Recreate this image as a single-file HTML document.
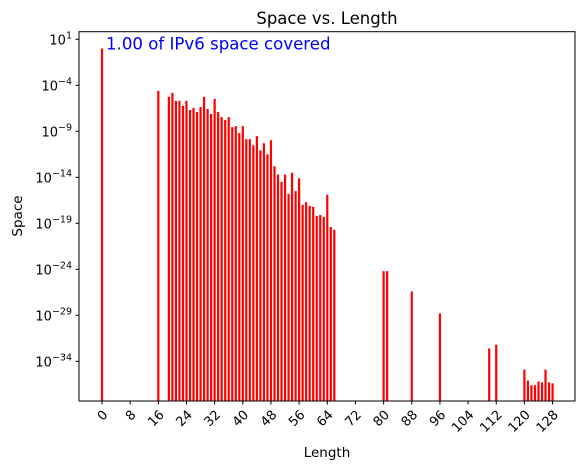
<!DOCTYPE html>
<html><head><meta charset="utf-8"><style>
body{margin:0;background:#fff}
svg{display:block;font-family:"DejaVu Sans","Liberation Sans",sans-serif}
</style></head><body>
<svg width="588" height="469" id="c">
<text x="327" y="24" text-anchor="middle" font-size="16.5">Space vs. Length</text>
<text x="327" y="457" text-anchor="middle" font-size="13.5">Length</text>
<text transform="translate(22,216) rotate(-90)" text-anchor="middle" font-size="13.5">Space</text>
<g id="bars"></g><g id="ticks"></g>
<rect x="79" y="31.7" width="496" height="369.3" fill="none" stroke="#000" stroke-width="1"/>
<text x="106" y="49.5" font-size="16.6" fill="#0000ff">1.00 of IPv6 space covered</text>
</svg>
<script>
const lengths=[0,16,19,20,21,22,23,24,25,26,27,28,29,30,31,32,33,34,35,36,37,38,39,40,41,42,43,44,45,46,47,48,49,50,51,52,53,54,55,56,57,58,59,60,61,62,63,64,65,66,80,81,88,96,110,112,120,121,122,123,124,125,126,127,128];
const exponents=[0,-4.6,-5.25,-4.82,-5.69,-5.69,-6.24,-5.69,-6.68,-6.46,-6.9,-6.35,-5.25,-6.57,-7.12,-5.47,-6.9,-7.45,-7.78,-7.45,-8.55,-8.44,-9.2,-8.44,-9.86,-9.86,-10.52,-9.53,-11.07,-10.3,-11.5,-9.97,-12.8,-13.7,-14.5,-13.7,-15.8,-13.5,-15.5,-14.1,-17.0,-16.7,-17.1,-17.2,-18.2,-18.1,-18.3,-15.9,-19.4,-19.7,-24.2,-24.2,-26.4,-28.8,-32.6,-32.2,-34.9,-36.1,-36.6,-36.6,-36.2,-36.3,-34.9,-36.3,-36.4];
const xTicks=[0,8,16,24,32,40,48,56,64,72,80,88,96,104,112,120,128];
const yTickExps=[1,-4,-9,-14,-19,-24,-29,-34];
const NS='http://www.w3.org/2000/svg';
const xs=v=>102+3.52*v;
const ys=e=>39.3+(1-e)*9.2;
const bottom=401;
const bars=document.getElementById('bars'),ticks=document.getElementById('ticks');
lengths.forEach((L,i)=>{
 const r=document.createElementNS(NS,'rect');
 const y=ys(exponents[i]);
 r.setAttribute('x',xs(L)-1.1);r.setAttribute('width',2.2);
 r.setAttribute('y',y);r.setAttribute('height',bottom-y);r.setAttribute('fill','#ff0000');
 
 
 bars.appendChild(r);
});
xTicks.forEach(t=>{
 const x=xs(t);
 const l=document.createElementNS(NS,'line');
 l.setAttribute('x1',x);l.setAttribute('x2',x);l.setAttribute('y1',bottom);l.setAttribute('y2',bottom+3.5);l.setAttribute('stroke','#000');
 
 
 ticks.appendChild(l);
 const tx=document.createElementNS(NS,'text');
 tx.setAttribute('transform','translate('+(x+4)+','+(bottom+12)+') rotate(-45)');
 tx.setAttribute('text-anchor','end');tx.setAttribute('font-size','13');tx.setAttribute('dominant-baseline','middle');
 tx.textContent=t;
 
 
 ticks.appendChild(tx);
});
yTickExps.forEach(e=>{
 const y=ys(e);
 const l=document.createElementNS(NS,'line');
 l.setAttribute('x1',75.5);l.setAttribute('x2',79);l.setAttribute('y1',y);l.setAttribute('y2',y);l.setAttribute('stroke','#000');
 
 
 ticks.appendChild(l);
 const tx=document.createElementNS(NS,'text');
 tx.setAttribute('x',72);tx.setAttribute('y',y+5);tx.setAttribute('text-anchor','end');tx.setAttribute('font-size','13');
 tx.innerHTML='10<tspan dy="-6" font-size="9.5">'+(e<0?'\u2212'+(-e):e)+'</tspan>';
 
 
 ticks.appendChild(tx);
});
</script>
</body></html>
